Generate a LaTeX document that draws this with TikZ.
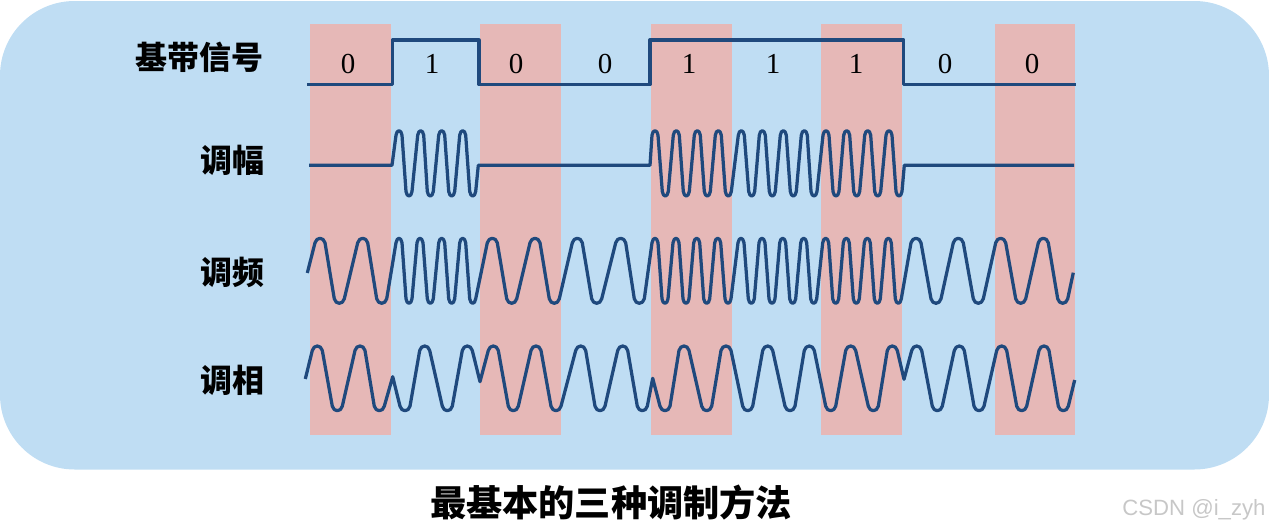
\documentclass[tikz,border=0pt]{standalone}
\usepackage{fontspec}
\setmainfont{Liberation Serif}
\newfontfamily\cjk{Noto Sans CJK SC}
\newfontfamily\wmfont{Liberation Sans}
\definecolor{PanelBlue}{HTML}{BFDDF3}
\definecolor{SlotPink}{HTML}{E6B8B7}
\definecolor{WaveBlue}{HTML}{1F497D}
\tikzset{
    wave/.style={color=WaveBlue, line width=1.85pt, line join=round},
    rowlabel/.style={font=\cjk\bfseries\fontsize{18.2}{18.2}\selectfont, color=black, inner sep=0pt},
    bitlabel/.style={font=\fontsize{16.5}{16.5}\selectfont, color=black, inner sep=0pt}
}
% alternating flat-topped humps: #1 half width, #2 first level, #3 second level, #4 x positions
\newcommand{\humps}[4]{\foreach \x [count=\i, evaluate=\i as \lvl using {mod(\i,2)==1 ? #2 : #3},
        evaluate=\i as \dy using {(mod(\i,2)==1 ? 4.5 : -4.5)*(#3-#2)/abs(#3-#2)}] in {#4} {
    -- (\x-#1,\lvl+\dy) .. controls (\x-#1*0.7,\lvl-\dy/3) and (\x+#1*0.7,\lvl-\dy/3) .. (\x+#1,\lvl+\dy)}}

\begin{document}
\begin{tikzpicture}[x=0.02cm, y=-0.02cm]
    \useasboundingbox (0,0) rectangle (1269,531);
    \fill[color=PanelBlue, rounded corners=42.5pt] (0,1) rectangle (1269,469.5);

    % slots of the 0 bits
    \foreach \xa/\xb in {310/391, 480/561, 651/732, 821/902, 995/1075}
        \fill[color=SlotPink] (\xa,24) rectangle (\xb,434.7);

    % baseband
    \draw[wave] (307,84.7) -- (392.3,84.7) -- (392.3,40) -- (479,40) -- (479,84.7)
        -- (650,84.7) -- (650,40) -- (903.8,40) -- (903.8,84.7) -- (1075.5,84.7);
    \foreach \x/\b [count=\n] in {348/0, 432/1, 516/0, 605/0, 689/1, 773/1, 856/1, 945/0, 1032/0}
        \node[bitlabel] (bit\n) at (\x,63.5) {\b};

    % AM
    \draw[wave] (309,165.3) -- (392,165.3)
        \humps{3}{130.7}{196}{399,409,420.7,430.3,441.7,451.7,462.7,472.7}
        -- (478.3,165.3) -- (650,165.3)
        \humps{3}{130.7}{196}{655,665.3,676.3,686.3,697.3,707.3,718.3,728.3,741.3,751.7,762.3,772.3,783.3,793.3,804.3,814,826,836,846.7,856.7,867.7,877.7,889,899}
        -- (904.3,165.3) -- (1074,165.3);

    % FM
    \draw[wave] (307.3,273)
        \humps{5}{238.3}{303.3}{320,339.3,362.7,381.7}
        \humps{3}{238.3}{303.3}{399,409,420,430.3,441.7,451.7,462.7,472.7}
        \humps{5}{238.3}{303.3}{492.3,511.7,535,554.3,577.3,596.7,620.7,639.3}
        \humps{3}{238.3}{303.3}{655,665,676,686,696.7,706.7,717.7,728,741,751.3,762,772,782.7,792.7,803.7,813.7,825.7,835.7,846.3,856.3,867.3,877.3,888.3,898.3}
        \humps{5}{238.3}{303.3}{916,936,958.3,978.3,1000.7,1020.7,1043.3,1062.7}
        -- (1073.3,272.7);

    % PM
    \draw[wave] (305.3,379)
        \humps{5}{346}{410.7}{317.3,337.3,360,379.3}
        -- (392.7,376.7)
        \humps{5}{410.7}{346}{405,424.7,447.3,467.3}
        -- (480,381.7)
        \humps{5}{346}{410.7}{493.3,513.3,536,556,580.7,600,622.7,642.3}
        -- (652.7,378.3)
        \humps{5}{410.7}{346}{665,684,706.7,726,747.7,767.7,790,809.3,830.7,850.7,873.3,892.3}
        -- (904,379.3)
        \humps{5}{346}{410.7}{916.7,937.3,959.3,979,1001.7,1021.7,1044,1063.3}
        -- (1074.7,380);

    \node[rowlabel] (lblbase) at (199.5,57.5) {基带信号};
    \node[rowlabel] (lblam) at (232,160.5) {调幅};
    \node[rowlabel] (lblfm) at (232,272.5) {调频};
    \node[rowlabel] (lblpm) at (232,380.5) {调相};
    \node[rowlabel, font=\cjk\bfseries\fontsize{20.6}{20.6}\selectfont] (lbltitle) at (611,503) {最基本的三种调制方法};
    \node[font=\wmfont\fontsize{12.6}{12.6}\selectfont, color=black!22, inner sep=0pt] (lblmark) at (1194,510) {CSDN @i\_zyh};
\end{tikzpicture}
\end{document}
